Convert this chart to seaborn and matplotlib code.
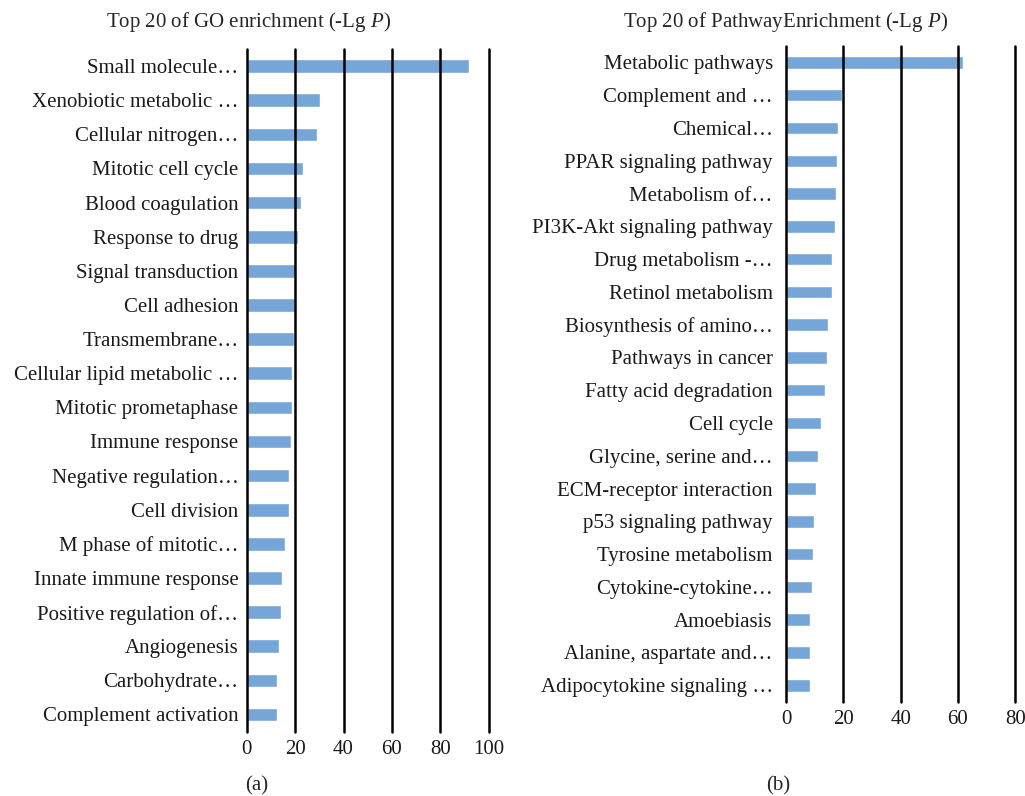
import matplotlib
matplotlib.use("Agg")
import matplotlib.pyplot as plt
import seaborn as sns

# GO enrichment, top 20 (-Lg P)
go_terms = ["Small molecule…", "Xenobiotic metabolic …", "Cellular nitrogen…",
            "Mitotic cell cycle", "Blood coagulation", "Response to drug",
            "Signal transduction", "Cell adhesion", "Transmembrane…",
            "Cellular lipid metabolic …", "Mitotic prometaphase", "Immune response",
            "Negative regulation…", "Cell division", "M phase of mitotic…",
            "Innate immune response", "Positive regulation of…", "Angiogenesis",
            "Carbohydrate…", "Complement activation"]
go_values = [91.9, 30.3, 29.0, 23.3, 22.4, 21.2, 20.4, 20.0, 19.6, 18.7,
             18.7, 18.3, 17.5, 17.5, 15.8, 14.6, 14.2, 13.3, 12.5, 12.5]

# Pathway enrichment, top 20 (-Lg P)
pw_terms = ["Metabolic pathways", "Complement and …", "Chemical…",
            "PPAR signaling pathway", "Metabolism of…", "PI3K-Akt signaling pathway",
            "Drug metabolism -…", "Retinol metabolism", "Biosynthesis of amino…",
            "Pathways in cancer", "Fatty acid degradation", "Cell cycle",
            "Glycine, serine and…", "ECM-receptor interaction", "p53 signaling pathway",
            "Tyrosine metabolism", "Cytokine-cytokine…", "Amoebiasis",
            "Alanine, aspartate and…", "Adipocytokine signaling …"]
pw_values = [61.7, 19.5, 18.1, 17.8, 17.4, 17.1, 16.0, 16.0, 14.7, 14.3,
             13.6, 12.2, 11.2, 10.5, 9.8, 9.4, 9.1, 8.4, 8.4, 8.4]

sns.set_style("white")
plt.rcParams['font.family'] = ['Liberation Serif', 'DejaVu Serif']
plt.rcParams['mathtext.fontset'] = 'custom'
plt.rcParams['mathtext.rm'] = 'Liberation Serif'
plt.rcParams['mathtext.it'] = 'Liberation Serif:italic'

bar_color = '#75A6D7'
fig = plt.figure(figsize=(10.25, 7.96), dpi=100)

ax1 = fig.add_axes([0.2407, 0.0810, 0.2361, 0.8574])
ax2 = fig.add_axes([0.7668, 0.1185, 0.2237, 0.8237])


def style_panel(ax, terms, values, xmax, width, ypad):
    sns.barplot(x=values, y=terms, color=bar_color, width=width,
                saturation=1, orient='h', ax=ax)
    ax.set_xlim(0, xmax)
    ax.set_xticks(range(0, xmax + 1, 20))
    ax.set_xlabel('')
    ax.set_ylabel('')
    for s in ax.spines.values():
        s.set_visible(False)
    ax.grid(axis='x', color='black', linewidth=1.8)
    ax.set_axisbelow(False)
    for gl in ax.get_xgridlines():
        gl.set_clip_on(False)
    ax.tick_params(axis='both', length=0, labelsize=15, colors='#1a1a1a')
    ax.tick_params(axis='y', pad=ypad)
    ax.tick_params(axis='x', pad=6)


style_panel(ax1, go_terms, go_values, 100, 0.40, 6)
style_panel(ax2, pw_terms, pw_values, 80, 0.38, 9.5)

fig.text(249 / 1025, 1 - 22 / 796, 'Top 20 of GO enrichment (-Lg $\\mathit{P}$)',
         ha='center', va='center', fontsize=15)
fig.text(786 / 1025, 1 - 22 / 796, 'Top 20 of PathwayEnrichment (-Lg $\\mathit{P}$)',
         ha='center', va='center', fontsize=15)
fig.text(257 / 1025, 1 - 786 / 796, '(a)', ha='center', va='center', fontsize=15)
fig.text(778 / 1025, 1 - 786 / 796, '(b)', ha='center', va='center', fontsize=15)

fig.savefig('out.png', dpi=100)
